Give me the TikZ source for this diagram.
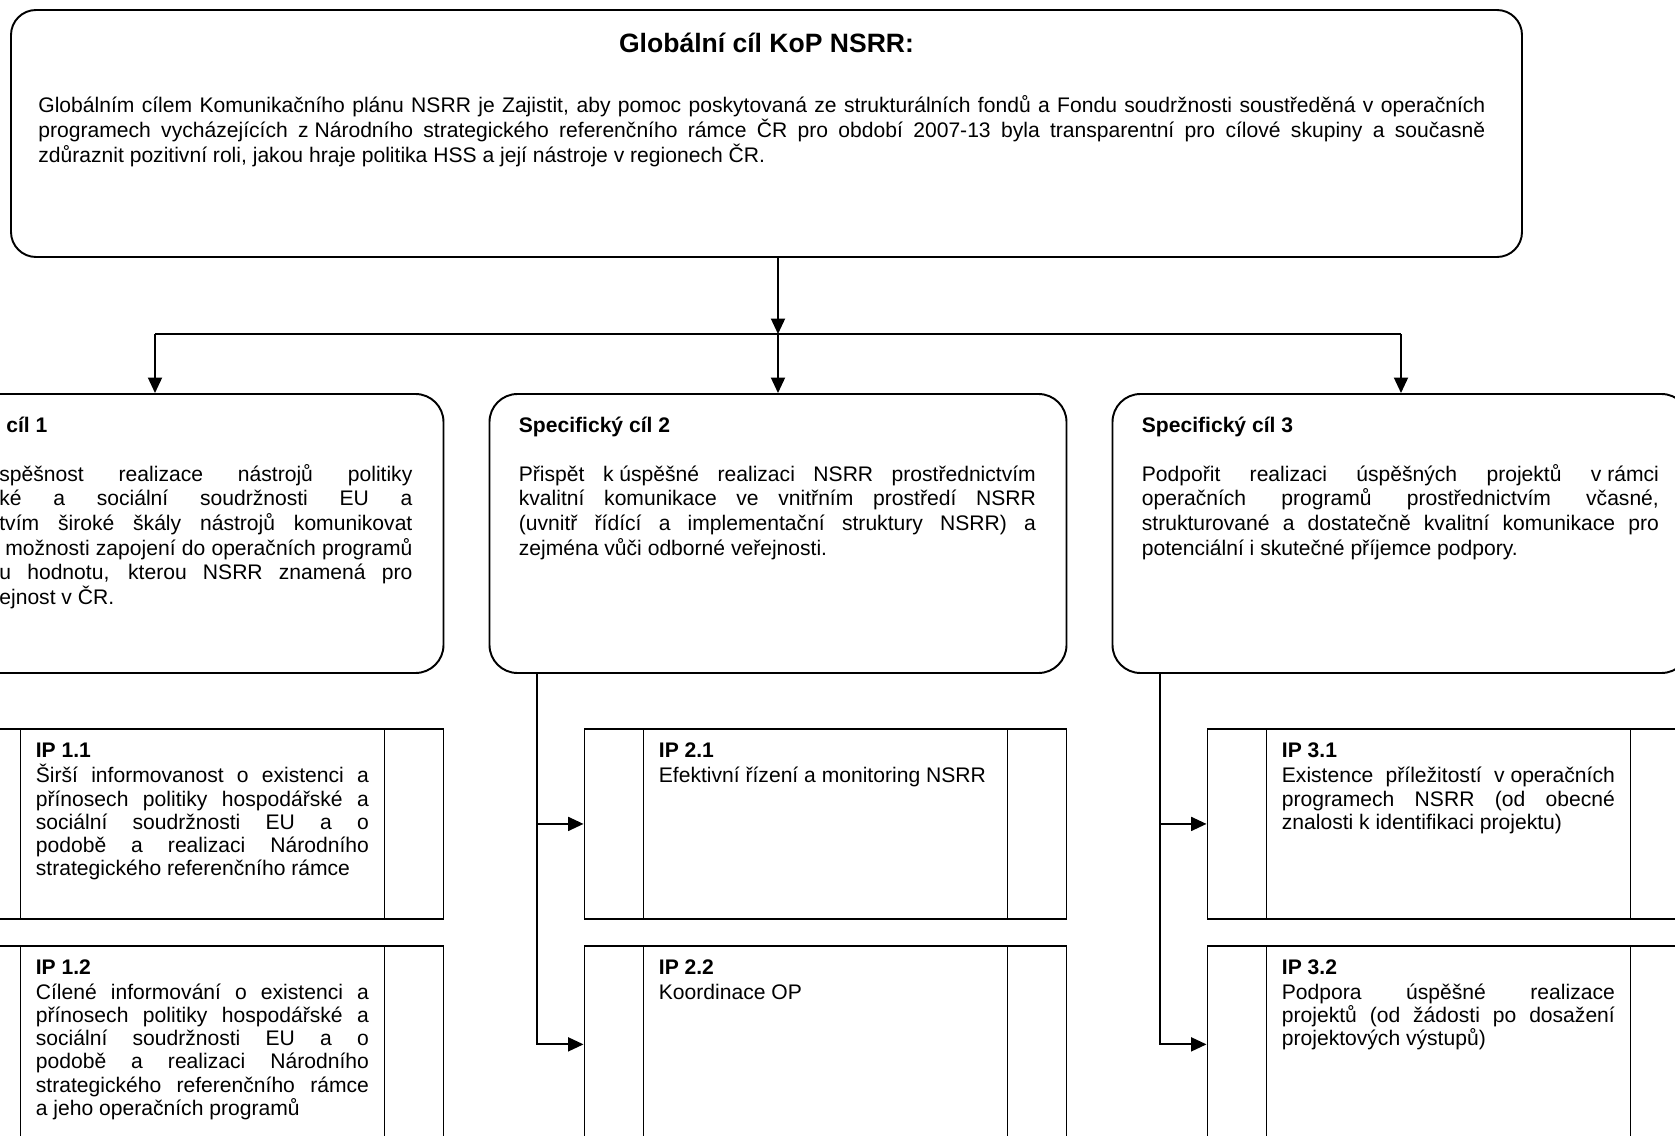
\documentclass[tikz,border=0pt]{standalone}
\usepackage{fontspec}
\setmainfont{Liberation Sans}
\usepackage{xcolor}
\usetikzlibrary{arrows.meta,positioning,calc}
\definecolor{inkblack}{RGB}{0,0,0}
\tolerance=10000
\hyphenpenalty=10000
\exhyphenpenalty=10000

\begin{document}
\begin{tikzpicture}[
  globalbox/.style={
    draw=inkblack,
    line width=1.1pt,
    rounded corners=5mm,
    minimum width=302.2mm,
    minimum height=49.4mm,
    inner sep=0pt
  },
  goalbox/.style={
    draw=inkblack,
    line width=1.1pt,
    rounded corners=5.6mm,
    minimum width=115.4mm,
    minimum height=55.8mm,
    inner sep=0pt
  },
  ipbox/.style={
    draw=inkblack,
    line width=1.1pt,
    minimum width=96.4mm,
    inner sep=0pt,
    path picture={
      \draw[inkblack, line width=1.1pt]
        ([xshift=11.8mm]path picture bounding box.north west) --
        ([xshift=11.8mm]path picture bounding box.south west)
        ([xshift=-11.8mm]path picture bounding box.north east) --
        ([xshift=-11.8mm]path picture bounding box.south east);
    }
  },
  gtitle/.style={font=\fontsize{15.1pt}{17pt}\selectfont\bfseries, text=inkblack, inner sep=0pt},
  gtext/.style={font=\fontsize{12pt}{14.5pt}\selectfont, text width=289.4mm, align=justify, inner sep=0pt},
  goaltext/.style={font=\fontsize{12pt}{14pt}\selectfont, text width=103.4mm, align=justify, inner sep=0pt},
  iptext/.style={font=\fontsize{12pt}{13.1pt}\selectfont, text width=66.6mm, align=justify, inner sep=0pt},
  line/.style={line width=1.1pt, draw=inkblack},
  link/.style={-{Triangle[length=3.1mm, width=2.8mm]}, line width=1.1pt, draw=inkblack}
]

\useasboundingbox (0,0) rectangle (335mm,-227.2mm);
\clip (0,0) rectangle (335mm,-227.2mm);

% ===== Global goal =====
\node[globalbox] (global) at (153.3mm,-26.7mm) {};
\node[gtitle, anchor=base] (gtitle) at ($(global.north)+(0,-8.6mm)$) {Globální cíl KoP NSRR:};
\node[gtext, anchor=base west] (gtext) at ($(global.north west)+(5.6mm,-20.6mm)$)
  {Globálním cílem Komunikačního plánu NSRR je Zajistit, aby pomoc poskytovaná ze strukturálních fondů a Fondu soudržnosti soustředěná v~operačních\linebreak
   programech vycházejících \mbox{z Národního} strategického referenčního rámce ČR pro období 2007-13 byla transparentní pro cílové skupiny a současně\linebreak
   zdůraznit pozitivní roli, jakou hraje politika HSS a její nástroje v regionech ČR.};

% ===== Specific goals =====
\node[goalbox] (goal1) at (31mm,-106.7mm) {};
\node[goalbox] (goal2) at (155.6mm,-106.7mm) {};
\node[goalbox] (goal3) at (280.2mm,-106.7mm) {};

% goal 1 is cut by the left page edge
\node[goaltext, text width=82.6mm, anchor=base west] (goal1txt) at ($(goal1.north west)+(26.7mm,-7.8mm)$)
  {\textbf{\hspace*{1.4mm}cíl 1}\\[\baselineskip]
   spěšnost realizace nástrojů politiky\linebreak
   ké a sociální soudržnosti EU a\linebreak
   tvím široké škály nástrojů komunikovat\linebreak
   \hspace*{1.2mm}možnosti zapojení do operačních programů\linebreak
   u hodnotu, kterou NSRR znamená pro\linebreak
   ejnost v ČR.};
\node[goaltext, anchor=base west] (goal2txt) at ($(goal2.north west)+(6mm,-7.8mm)$)
  {\textbf{Specifický cíl 2}\\[\baselineskip]
   Přispět \mbox{k úspěšné} realizaci NSRR prostřednictvím\linebreak
   kvalitní komunikace ve vnitřním prostředí NSRR\linebreak
   (uvnitř řídící a implementační struktury NSRR) a\linebreak
   zejména vůči odborné veřejnosti.};
\node[goaltext, anchor=base west] (goal3txt) at ($(goal3.north west)+(6mm,-7.8mm)$)
  {\textbf{Specifický cíl 3}\\[\baselineskip]
   Podpořit realizaci úspěšných projektů \mbox{v rámci}\linebreak
   operačních programů prostřednictvím včasné,\linebreak
   strukturované a dostatečně kvalitní komunikace pro\linebreak
   potenciální i skutečné příjemce podpory.};

% ===== Priorities (IP) =====
\node[ipbox, minimum height=38mm, anchor=north east] (ip11) at ($(goal1.south east)+(0,-10.8mm)$) {};
\node[ipbox, minimum height=39.4mm, anchor=north] (ip12) at ($(ip11.south)+(0,-5mm)$) {};
\node[ipbox, minimum height=38mm, anchor=north east] (ip21) at ($(goal2.south east)+(0,-10.8mm)$) {};
\node[ipbox, minimum height=39.4mm, anchor=north] (ip22) at ($(ip21.south)+(0,-5mm)$) {};
\node[ipbox, minimum height=38mm, anchor=north east] (ip31) at ($(goal3.south east)+(0,-10.8mm)$) {};
\node[ipbox, minimum height=39.4mm, anchor=north] (ip32) at ($(ip31.south)+(0,-5mm)$) {};

\node[iptext, anchor=base west] (ip11txt) at ($(ip11.north west)+(15mm,-6mm)$)
  {\textbf{IP 1.1}\\[0.4mm]
   Širší informovanost o existenci a\linebreak
   přínosech politiky hospodářské a\linebreak
   sociální soudržnosti EU a o\linebreak
   podobě a realizaci Národního\linebreak
   strategického referenčního rámce};
\node[iptext, anchor=base west] (ip12txt) at ($(ip12.north west)+(15mm,-6mm)$)
  {\textbf{IP 1.2}\\[0.4mm]
   Cílené informování o existenci a\linebreak
   přínosech politiky hospodářské a\linebreak
   sociální soudržnosti EU a o\linebreak
   podobě a realizaci Národního\linebreak
   strategického referenčního rámce\linebreak
   a jeho operačních programů};
\node[iptext, anchor=base west] (ip21txt) at ($(ip21.north west)+(15mm,-6mm)$)
  {\textbf{IP 2.1}\\[0.4mm]
   Efektivní řízení a monitoring NSRR};
\node[iptext, anchor=base west] (ip22txt) at ($(ip22.north west)+(15mm,-6mm)$)
  {\textbf{IP 2.2}\\[0.4mm]
   Koordinace OP};
\node[iptext, anchor=base west] (ip31txt) at ($(ip31.north west)+(15mm,-6mm)$)
  {\textbf{IP 3.1}\\[0.4mm]
   Existence příležitostí \mbox{v operačních}\linebreak
   programech NSRR (od obecné\linebreak
   znalosti \mbox{k identifikaci} projektu)};
\node[iptext, anchor=base west] (ip32txt) at ($(ip32.north west)+(15mm,-6mm)$)
  {\textbf{IP 3.2}\\[0.4mm]
   Podpora úspěšné realizace\linebreak
   projektů (od žádosti po dosažení\linebreak
   projektových výstupů)};

% ===== Connectors =====
\coordinate (split) at ($(goal2.north)+(0,11.8mm)$);
\draw[link] (global.south -| split) -- (split);
\draw[line] (split -| goal1) -- (split -| goal3);
\draw[link] (split -| goal1) -- (goal1.north);
\draw[link] (split) -- (goal2.north);
\draw[link] (split -| goal3) -- (goal3.north);

% trunks from goal 2 and goal 3 down to their priorities
\coordinate (trunk2) at ($(goal2.south west)+(9.6mm,0)$);
\coordinate (trunk3) at ($(goal3.south west)+(9.6mm,0)$);
\draw[link] (trunk2) |- (ip21.west);
\draw[link] (trunk2) |- (ip22.west);
\draw[link] (trunk3) |- (ip31.west);
\draw[link] (trunk3) |- (ip32.west);

\end{tikzpicture}
\end{document}
